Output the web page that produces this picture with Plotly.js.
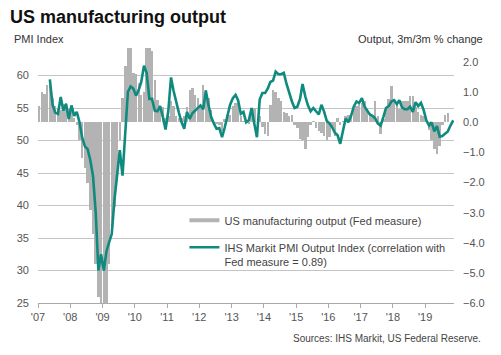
<!DOCTYPE html>
<html>
<head>
<meta charset="utf-8">
<script src="https://cdn.plot.ly/plotly-3.0.1.min.js"></script>
<style>html,body{margin:0;padding:0;background:#fff;}#chart{width:501px;height:355px;}</style>
</head>
<body>
<div id="chart"></div>
<script>
// US manufacturing output, 3m/3m % change (Fed measure), monthly from Jan 2007
const outputStart = [2007, 1];
const outputValues = [
  0.55, 1.0, 0.95, 1.25, 1.2, 0.8, 0.55, 0.45, 0.4, 0.6, 0.65, 0.45,
  0.35, 0.15, -0.1, -0.6, -1.2, -1.5, -2.0, -2.9, -3.7, -4.7, -5.8, -6.5,
  -6.5, -6.3, -4.7, -3.7, -2.8, -1.9, -0.6, 0.8, 1.86, 2.6, 2.6, 1.64,
  1.6, 1.3, 0.9, 1.0, 2.6, 2.6, 2.36, 1.42, 0.75, 0.53, 0.5, 0.15,
  0.2, 0.7, 0.55, 0.2, 0.15, 0.15, 0.2, 0.5, 1.09, 1.14, 0.9, 0.8,
  0.53, 1.25, 1.09, 0.81, 0.42, 0.02, -0.05, -0.1, -0.3, 0.1, 0.25, 0.25,
  0.53, 0.64, 0.64, 0.2, 0.05, 0.05, -0.05, 0.26, 0.47, 0.02, 0.2, -0.17,
  -0.4, -0.45, 0.58, 1.09, 1.0, 0.8, 0.7, 0.35, 0.3, 0.2, 0.25, -0.1,
  -0.2, -0.55, -0.6, -0.9, -0.5, -0.1, 0.05, -0.2, -0.3, -0.35, -0.45, -0.6,
  -0.5, -0.17, -0.45, 0.15, -0.1, 0.05, 0.2, 0.25, 0.2, 0.43, 0.55, 0.64,
  0.64, 0.7, 0.45, 0.3, 0.2, 0.7, 0.2, -0.37, 0.1, 0.5, 0.76, 1.2,
  0.7, 0.6, 0.43, 0.7, 0.7, 0.7, 0.86, 0.86, 0.5, 0.35, 0.25, 0.2,
  0.05, -0.25, -0.6, -0.9, -1.06, -0.8, -0.1, 0.25, 0.3
];

// IHS Markit PMI Output Index, monthly from May 2007
const pmiStart = [2007, 5];
const pmiValues = [
  59.4, 55.5, 54.3, 54.1, 56.7, 54.6, 55.6, 53.3,
  55.4, 53.8, 54.4, 52.8, 50.5, 49.1, 48.7, 47.0, 44.5, 39.0, 30.0, 32.5,
  30.0, 33.0, 34.3, 35.6, 40.8, 44.9, 48.5, 44.6, 51.5, 57.5, 58.3, 58.0,
  56.9, 57.8, 59.0, 61.5, 60.4, 56.4, 56.4, 54.6, 54.5, 55.3, 53.6, 51.7,
  54.5, 59.7, 57.7, 55.8, 54.3, 52.8, 51.8, 54.4, 53.3, 54.2, 54.6, 55.0,
  55.4, 54.8, 57.7, 55.4, 53.6, 52.6, 51.8, 51.9, 50.5, 52.0, 54.0, 55.5,
  56.5, 57.0, 56.2, 54.1, 54.4, 52.8, 53.1, 55.0, 52.6, 50.5, 56.3, 57.3,
  57.3, 58.0, 59.0, 59.2, 60.6, 60.2, 60.2, 60.4, 58.7, 57.2, 56.0, 55.0,
  55.2, 56.4, 58.7, 56.8, 55.4, 54.5, 55.0, 54.5, 54.0, 55.5, 54.4, 53.0,
  52.6, 52.0, 51.2, 50.8, 49.5, 51.5, 53.4, 52.8, 53.8, 55.2, 56.0, 55.8,
  56.5, 55.2, 54.6, 54.0, 53.8, 53.4, 52.6, 52.3, 53.6, 55.0, 55.3, 56.0,
  56.2, 55.6, 56.2, 55.1, 54.8, 54.8, 55.2, 54.4, 55.9, 55.3, 55.8, 54.7,
  53.1, 52.3, 52.8, 51.4, 52.2, 50.6, 50.7, 51.0, 51.4, 52.3, 53.1
];

const outputName = 'US manufacturing output (Fed measure)';
const pmiName = 'IHS Markit PMI Output Index (correlation with<br>Fed measure = 0.89)';
const leftTicks = [25, 30, 35, 40, 45, 50, 55, 60];
const rightTicks = [-6, -5, -4, -3, -2, -1, 0, 1, 2];

function monthDates(start, n) {
  const out = [];
  let y = start[0], m = start[1];
  for (let i = 0; i < n; i++) {
    out.push(y + '-' + String(m).padStart(2, '0') + '-15');
    m++; if (m > 12) { m = 1; y++; }
  }
  return out;
}
const outputDates = monthDates(outputStart, outputValues.length);
const pmiDates = monthDates(pmiStart, pmiValues.length);

const FONT = 'Liberation Sans, Arial, Helvetica, sans-serif';
const GREY_BAR = '#b3b3b3';
const TEAL = '#0f8a7e';

const traces = [
  {
    type: 'bar', x: outputDates, y: outputValues, yaxis: 'y',
    marker: {color: GREY_BAR, line: {width: 0}}, showlegend: false,
    hoverinfo: 'skip'
  },
  {
    type: 'scatter', mode: 'lines', x: [null], y: [null], yaxis: 'y',
    name: outputName, line: {color: GREY_BAR, width: 4}, legendgroup: 'a'
  },
  {
    type: 'scatter', mode: 'lines', x: pmiDates, y: pmiValues, yaxis: 'y2',
    name: pmiName, line: {color: TEAL, width: 2.6}, legendgroup: 'b'
  }
];

const layout = {
  width: 501, height: 355,
  margin: {l: 38, r: 47, t: 48, b: 52, pad: 0},
  paper_bgcolor: '#fff', plot_bgcolor: 'rgba(0,0,0,0)',
  font: {family: FONT, size: 11, color: '#444'},
  title: {
    text: '<b>US manufacturing output</b>',
    font: {family: FONT, size: 18, color: '#111'},
    xref: 'container', x: 0.02, xanchor: 'left',
    yref: 'container', y: 0.952, yanchor: 'middle'
  },
  bargap: 0,
  showlegend: true,
  legend: {
    x: 0.352, xanchor: 'left', y: 0.378, yanchor: 'top',
    bgcolor: 'rgba(0,0,0,0)', borderwidth: 0,
    font: {family: FONT, size: 11, color: '#444'},
    tracegroupgap: 8, valign: 'top'
  },
  xaxis: {
    type: 'date', range: ['2007-01-01', '2019-11-24'],
    tick0: '2007-01-01', dtick: 'M12', tickformat: "'%y",
    ticks: 'outside', ticklen: 4, tickcolor: '#aaa',
    showline: true, linecolor: '#aaa', linewidth: 1,
    showgrid: false, zeroline: false,
    tickfont: {family: FONT, size: 11, color: '#555'}
  },
  yaxis: {
    side: 'right', range: [-6, 2.47],
    tickvals: rightTicks, tickformat: '.1f',
    showgrid: false, zeroline: false, showline: false, ticks: '',
    ticklabelstandoff: 8,
    tickfont: {family: FONT, size: 11, color: '#555'}
  },
  yaxis2: {
    overlaying: 'y', side: 'left', range: [25, 64.23],
    tickvals: leftTicks,
    showgrid: true, gridcolor: '#c4c4c4', gridwidth: 1,
    zeroline: false, showline: false, ticks: '',
    ticklabelstandoff: 8,
    tickfont: {family: FONT, size: 11, color: '#555'}
  },
  annotations: [
    {text: 'PMI Index', xref: 'paper', yref: 'paper', x: -0.0625, y: 1.035,
     xanchor: 'left', yanchor: 'middle', showarrow: false,
     font: {family: FONT, size: 11, color: '#333'}},
    {text: 'Output, 3m/3m % change', xref: 'paper', yref: 'paper', x: 1.0745, y: 1.035,
     xanchor: 'right', yanchor: 'middle', showarrow: false,
     font: {family: FONT, size: 11, color: '#333'}},
    {text: 'Sources: IHS Markit, US Federal Reserve.', xref: 'paper', yref: 'paper', x: 1.07, y: -0.141,
     xanchor: 'right', yanchor: 'middle', showarrow: false,
     font: {family: FONT, size: 10, color: '#444'}}
  ]
};

Plotly.newPlot('chart', traces, layout, {displayModeBar: false, staticPlot: true});
</script>
</body>
</html>
